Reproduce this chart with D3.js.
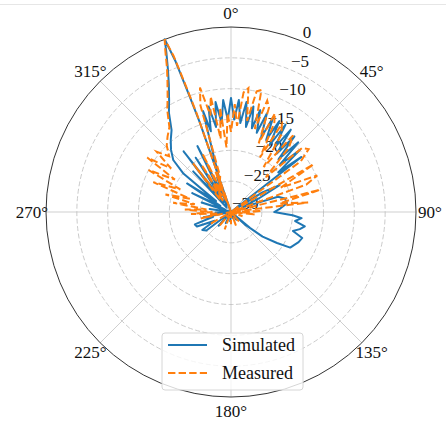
<!DOCTYPE html>
<html>
<head>
<meta charset="utf-8">
<script src="https://cdn.jsdelivr.net/npm/d3@7/dist/d3.min.js"></script>
<style>
  html, body { margin: 0; padding: 0; background: #fff; }
  svg { display: block; }
</style>
</head>
<body>
<svg id="chart" width="446" height="424"></svg>
<script>
// Radiation pattern: angle in degrees (clockwise from 0° at top), gain in dB
const simAngle = [130, 135, 145, 155, 165, 175, 185, 195, 205, 215, 222, 228, 233, 238, 242, 247, 251, 255, 259, 263, 268, 273, 278, 283, 288, 292, 296, 300, 303, 306, 309, 312, 316, 320, 324, 328, 331, 334, 336, 338, 339, 339.8, 340.3, 340.8, 341.5,
  338, 336, 333, 330, 327, 324, 322, 319, 317, 315,
  343, 344.5, 346, 348, 350, 352, 354, 356, 358, 360, 362, 364, 366, 368, 370, 372, 374, 376, 378, 380, 382, 384, 386, 388, 390, 392, 394, 396, 398, 400, 402, 404, 406, 408, 410, 412, 414,
  418, 421, 424, 428, 432, 436, 441, 446, 450, 452, 453, 455, 458, 461, 464, 467, 470, 474, 478, 481, 484, 488, 492, 500];
const simDb = [-26, -30, -28.5, -30, -29, -30, -28.5, -30, -28, -30, -27, -30, -25, -24.5, -27, -24, -23.8, -27, -25.5, -30, -27.5, -30, -26.5, -30, -25, -29, -23, -28, -21.5, -27, -20, -17.4, -16, -14.8, -13.6, -11, -9.3, -7, -4.9, -2, 0, -4, -10, -14.6, -30,
  -24, -28, -18, -27, -19.5, -28, -17.5, -27, -21, -29,
  -20, -13, -16.5, -12.5, -16, -12, -15.5, -11.8, -15, -11.5, -15, -11.8, -15.5, -12, -16, -12.5, -16, -12.8, -16.5, -13, -17, -13.2, -17, -13.3, -17.5, -13.3, -17.5, -13.5, -18, -14, -18.5, -14.3, -19, -15, -20, -15.5, -30,
  -24, -21, -25, -28, -22, -21, -20.8, -22, -23, -21.2, -20, -18.5, -19.5, -17.8, -18.5, -19.5, -17.7, -18, -18.5, -18.8, -21, -23.5, -27, -30];

const measAngle = [130, 140, 150, 160, 170, 180, 190, 200, 210, 220, 230, 240, 250, 258, 263, 267, 270, 273, 276, 279, 282, 285, 288, 291, 294, 297, 300, 303, 306, 309, 312, 316, 320, 324, 328, 331, 334, 336, 338, 339, 339.8, 340.3, 340.8, 341.5,
  339, 337, 334, 331, 328, 325, 322, 319,
  343, 344, 346, 348, 350, 352, 354, 356, 358, 360, 362, 364, 366, 368, 370, 372, 374, 376, 378, 380, 382, 384, 386, 388, 390, 393, 396, 399, 402, 405, 408, 411, 414, 417, 420, 424, 427, 430, 432, 436, 440, 443, 445, 448, 452, 456, 460, 470, 480, 490];
const measDb = [-30, -28, -30, -27.5, -30, -28, -30, -27, -30, -27, -30, -26, -30, -25, -28, -23.5, -27, -22.5, -26, -20.5, -24, -19, -23, -16.5, -21, -15, -19.5, -13.8, -18, -14.5, -16.5, -15, -14, -13, -10.5, -8.8, -6.5, -4.5, -1.5, 0, -3, -8, -13, -30,
  -23, -28, -19.5, -27, -21, -28, -20, -27,
  -24, -12, -9.2, -14, -11, -18, -13, -19.5, -14, -17, -12.5, -16, -10.5, -9.7, -15, -10, -9.6, -16, -11, -12, -18, -12.5, -14, -20, -13.5, -15, -21, -14, -16, -22, -14.5, -13.8, -16, -30, -14.5, -21, -14.8, -17, -30, -15.1, -22, -17.4, -30, -25, -28, -26, -30, -28, -30, -29];

const radialTicks = [0, -5, -10, -15, -20, -25, -30];
const angleTicks = [0, 45, 90, 135, 180, 225, 270, 315];
const seriesNames = ["Simulated", "Measured"];

const FONT = "Liberation Serif, Tinos, DejaVu Serif, Noto Serif, Times New Roman, serif";

const svg = d3.select("#chart").style("font-family", FONT);
const cx = 231, cy = 212, R = 185;
const g = svg.append("g").attr("transform", `translate(${cx},${cy})`);

const r = d3.scaleLinear().domain([-30, 0]).range([0, R]).clamp(true);
const rad = a => a * Math.PI / 180;

// thin frame line along the top edge
svg.append("line").attr("x1", 0).attr("x2", 446).attr("y1", 4.5).attr("y2", 4.5)
  .attr("stroke", "#e6e6e6").attr("stroke-width", 1);

// angular spokes
g.selectAll("line.spoke").data(angleTicks).join("line")
  .attr("x1", 0).attr("y1", 0)
  .attr("x2", d => R * Math.sin(rad(d)))
  .attr("y2", d => -R * Math.cos(rad(d)))
  .attr("stroke", "#cfcfcf").attr("stroke-width", 1);

// radial rings
g.selectAll("circle.ring").data(radialTicks.filter(v => v > -30 && v < 0)).join("circle")
  .attr("r", d => r(d)).attr("fill", "none")
  .attr("stroke", "#c4c4c4").attr("stroke-width", 0.9).attr("stroke-dasharray", "5,2.5");

// outer boundary
g.append("circle").attr("r", R).attr("fill", "none")
  .attr("stroke", "#333").attr("stroke-width", 1);

// radial tick labels along the 22.5° direction
const labAng = rad(22.5);
g.selectAll("text.rlab").data(radialTicks).join("text")
  .style("font-family", FONT)
  .attr("x", d => r(d) * Math.sin(labAng) + 1)
  .attr("y", d => -r(d) * Math.cos(labAng) - 8.5)
  .attr("text-anchor", "start").attr("dominant-baseline", "central")
  .attr("font-size", 17).attr("fill", "#111")
  .text(d => d === 0 ? "0" : "\u2212" + Math.abs(d));

// angular tick labels
const angOff = 14;
g.selectAll("text.alab").data(angleTicks).join("text")
  .style("font-family", FONT)
  .attr("x", d => (R + angOff) * Math.sin(rad(d)))
  .attr("y", d => -(R + angOff) * Math.cos(rad(d)))
  .attr("text-anchor", "middle").attr("dominant-baseline", "central")
  .attr("font-size", 17).attr("fill", "#111")
  .text(d => d + "\u00b0");

// pattern traces
const line = d3.lineRadial()
  .angle(d => rad(d[0]))
  .radius(d => r(d[1]));

const simPts = simAngle.map((a, i) => [a, simDb[i]]);
const measPts = measAngle.map((a, i) => [a, measDb[i]]);

g.append("path").datum(simPts).attr("d", line)
  .attr("fill", "none").attr("stroke", "#1f77b4").attr("stroke-width", 2)
  .attr("stroke-linejoin", "round");

g.append("path").datum(measPts).attr("d", line)
  .attr("fill", "none").attr("stroke", "#ff7f0e").attr("stroke-width", 2)
  .attr("stroke-dasharray", "7.4,3.2");

// legend
const leg = svg.append("g").attr("transform", "translate(162,333)");
leg.append("rect").attr("width", 141).attr("height", 57).attr("rx", 3)
  .attr("fill", "#fff").attr("fill-opacity", 0.8)
  .attr("stroke", "#d6d6d6").attr("stroke-width", 1);
const legStyles = [{ color: "#1f77b4", dash: null }, { color: "#ff7f0e", dash: "7.4,3.2" }];
seriesNames.forEach((name, i) => {
  const y = 12 + i * 28;
  leg.append("line").attr("x1", 6).attr("x2", 45).attr("y1", y).attr("y2", y)
    .attr("stroke", legStyles[i].color).attr("stroke-width", 2)
    .attr("stroke-dasharray", legStyles[i].dash);
  leg.append("text").style("font-family", FONT).attr("x", 60).attr("y", y)
    .attr("dominant-baseline", "central").attr("fill", "#111")
    .attr("font-size", 18).text(name);
});
</script>
</body>
</html>
